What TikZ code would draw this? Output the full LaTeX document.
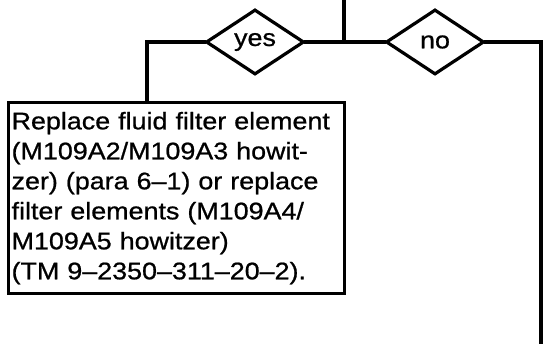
\documentclass[tikz,border=0pt]{standalone}
\usepackage{fontspec}
\usepackage{tikz}
\usetikzlibrary{shapes.geometric,positioning}
\newfontfamily\chartfont[FakeStretch=1.12,FakeBold=0.8]{Liberation Sans}
\definecolor{ChartInk}{HTML}{000000}

\begin{document}
\begin{tikzpicture}[
  x=1pt,y=-1pt,
  line width=3.2pt,
  decision/.style={diamond,draw=ChartInk,aspect=1.5,minimum width=98pt,minimum height=65pt,inner sep=0pt,font=\chartfont\fontsize{24}{30}\selectfont},
  action/.style={draw=ChartInk,minimum width=336pt,minimum height=191pt,inner sep=3pt,text width=330pt,align=left,font=\chartfont\fontsize{24}{30}\selectfont},
  flow/.style={draw=ChartInk,line cap=rect},
]
\useasboundingbox (0,0) rectangle (545,344);
\coordinate (in) at (344,0);
\coordinate (split) at (344,42);
\node[decision] (yes) at (255,42) {yes};
\node[decision] (no) at (435,42) {no};
\node[action,anchor=north west] (fix) at (7,101) {Replace fluid filter element\\(M109A2/M109A3 howit-\\zer) (para 6–1) or replace\\filter elements (M109A4/\\M109A5 howitzer)\\(TM 9–2350–311–20–2).};
\coordinate (out) at (541,344);
\draw[flow] (in) -- (split);
\draw[flow] (split) -- (yes.east);
\draw[flow] (yes.west) -| ([xshift=140pt]fix.north west);
\draw[flow] (split) -- (no.west);
\draw[flow] (no.east) -| (out);
\end{tikzpicture}
\end{document}
